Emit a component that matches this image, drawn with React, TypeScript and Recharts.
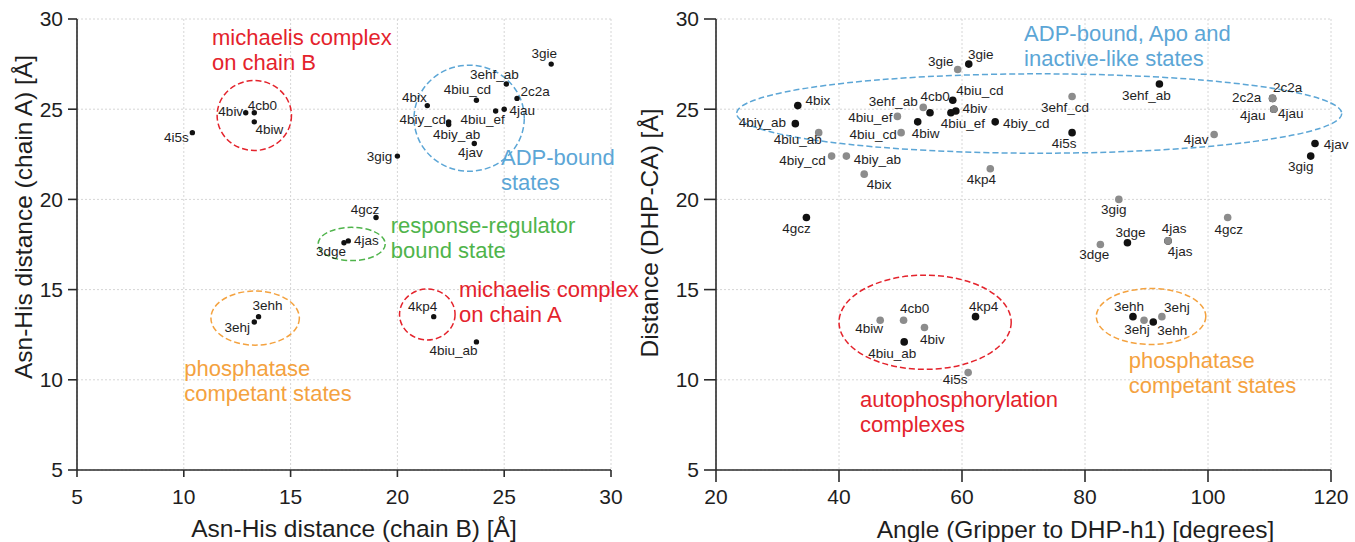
import React from "react";
import { ScatterChart, Scatter, XAxis, YAxis, CartesianGrid, ReferenceArea, Label } from "recharts";

const FONT = '"Liberation Sans", Arial, Helvetica, sans-serif';

const COLORS: Record<string, string> = {
  red: "#e4232c",
  blue: "#5ca6d6",
  green: "#4fb44b",
  orange: "#f4a23f",
};

// ---- left panel: Asn-His distance, chain B (x) vs chain A (y)
const distTicks = [5, 10, 15, 20, 25, 30];

const asnHisPoints = [
  { name: "3gie", x: 27.2, y: 27.5 },
  { name: "3ehf_ab", x: 25.1, y: 26.4 },
  { name: "2c2a", x: 25.6, y: 25.6 },
  { name: "4bix", x: 21.4, y: 25.2 },
  { name: "4biu_cd", x: 23.7, y: 25.5 },
  { name: "4jau", x: 25.0, y: 25.0 },
  { name: "4biu_ef", x: 24.6, y: 24.9 },
  { name: "4biy_cd", x: 22.4, y: 24.3 },
  { name: "4biy_ab", x: 22.4, y: 24.15 },
  { name: "4jav", x: 23.6, y: 23.1 },
  { name: "3gig", x: 20.0, y: 22.4 },
  { name: "4biv", x: 12.9, y: 24.8 },
  { name: "4cb0", x: 13.3, y: 24.8 },
  { name: "4biw", x: 13.3, y: 24.3 },
  { name: "4i5s", x: 10.4, y: 23.7 },
  { name: "4gcz", x: 19.0, y: 19.0 },
  { name: "4jas", x: 17.7, y: 17.7 },
  { name: "3dge", x: 17.5, y: 17.6 },
  { name: "3ehh", x: 13.5, y: 13.5 },
  { name: "3ehj", x: 13.3, y: 13.2 },
  { name: "4kp4", x: 21.7, y: 13.5 },
  { name: "4biu_ab", x: 23.7, y: 12.1 },
];

// label placement (px from the dot), same order as asnHisPoints
const asnHisLabelPos: [number, number][] = [
  [-7, -11], [-12, -10], [18, -7], [-13, -8], [-9, -11], [18, 1], [-13, 8], [-26, -3],
  [8, 10], [-4, 9], [-18, 0], [-15, -2], [8, -8], [15, 7], [-16, 5], [-11, -8],
  [18, -1], [-13, 9], [9, -11], [-17, 5], [-11, -10], [-23, 8],
];

const asnHisRings = [
  { cx: 13.3, cy: 24.65, rx: 1.74, ry: 1.94, group: "red" },
  { cx: 23.36, cy: 24.5, rx: 2.58, ry: 2.94, group: "blue" },
  { cx: 17.86, cy: 17.53, rx: 1.57, ry: 0.92, group: "green" },
  { cx: 13.34, cy: 13.42, rx: 2.07, ry: 1.5, group: "orange" },
  { cx: 21.4, cy: 13.62, rx: 1.3, ry: 1.41, group: "red" },
];

const asnHisNotes = [
  { x: 11.32, y: 28.55, lines: ["michaelis complex", "on chain B"], group: "red" },
  { x: 24.85, y: 21.9, lines: ["ADP-bound", "states"], group: "blue" },
  { x: 19.69, y: 18.12, lines: ["response-regulator", "bound state"], group: "green" },
  { x: 22.88, y: 14.6, lines: ["michaelis complex", "on chain A"], group: "red" },
  { x: 10.02, y: 10.21, lines: ["phosphatase", "competant states"], group: "orange" },
];

// ---- right panel: gripper angle (x) vs DHP-CA distance (y)
const angleTicks = [20, 40, 60, 80, 100, 120];

const angleBlack = [
  { name: "3gie", x: 61.1, y: 27.5 },
  { name: "3ehf_ab", x: 92.1, y: 26.4 },
  { name: "2c2a", x: 110.5, y: 25.6 },
  { name: "4jau", x: 110.7, y: 25.0 },
  { name: "4bix", x: 33.3, y: 25.2 },
  { name: "4biy_ab", x: 32.9, y: 24.2 },
  { name: "4biw", x: 52.8, y: 24.3 },
  { name: "4cb0", x: 54.8, y: 24.8 },
  { name: "4biu_cd", x: 58.5, y: 25.5 },
  { name: "4biv", x: 59.0, y: 24.9 },
  { name: "4biu_ef", x: 58.2, y: 24.8 },
  { name: "4biy_cd", x: 65.4, y: 24.3 },
  { name: "4i5s", x: 77.9, y: 23.7 },
  { name: "4jav", x: 117.4, y: 23.1 },
  { name: "3gig", x: 116.7, y: 22.4 },
  { name: "4gcz", x: 34.7, y: 19.0 },
  { name: "3dge", x: 86.9, y: 17.6 },
  { name: "4jas", x: 93.5, y: 17.7 },
  { name: "4biu_ab", x: 50.6, y: 12.1 },
  { name: "4kp4", x: 62.2, y: 13.5 },
  { name: "3ehh", x: 87.8, y: 13.5 },
  { name: "3ehh", x: 91.1, y: 13.2 },
];

const angleBlackLabelPos: [number, number][] = [
  [12, -10], [-13, 11], [-26, -1], [-21, 6], [20, -5], [-33, -1], [8, 11], [5, -17],
  [27, -10], [19, -3], [12, 10], [31, 1], [-8, 11], [21, 1], [-10, 10], [-10, 11],
  [3, -10], [6, -13], [-12, 11], [8, -10], [-4, -10], [19, 8],
];

const angleGray = [
  { name: "3gie", x: 59.3, y: 27.2 },
  { name: "2c2a", x: 110.5, y: 25.6 },
  { name: "4jau", x: 110.7, y: 25.0 },
  { name: "4biu_ab", x: 36.7, y: 23.7 },
  { name: "4biy_cd", x: 38.8, y: 22.4 },
  { name: "4biy_ab", x: 41.2, y: 22.4 },
  { name: "4bix", x: 44.1, y: 21.4 },
  { name: "4biu_ef", x: 49.5, y: 24.6 },
  { name: "3ehf_ab", x: 53.7, y: 25.1 },
  { name: "4biu_cd", x: 50.1, y: 23.7 },
  { name: "4kp4", x: 64.6, y: 21.7 },
  { name: "3ehf_cd", x: 77.9, y: 25.7 },
  { name: "4jav", x: 101.0, y: 23.6 },
  { name: "3gig", x: 85.5, y: 20.0 },
  { name: "4gcz", x: 103.2, y: 19.0 },
  { name: "4jas", x: 93.5, y: 17.7 },
  { name: "3dge", x: 82.5, y: 17.5 },
  { name: "4biw", x: 46.7, y: 13.3 },
  { name: "4cb0", x: 50.5, y: 13.3 },
  { name: "4biv", x: 53.9, y: 12.9 },
  { name: "4i5s", x: 61.0, y: 10.4 },
  { name: "3ehj", x: 89.6, y: 13.3 },
  { name: "3ehj", x: 92.5, y: 13.5 },
];

const angleGrayLabelPos: [number, number][] = [
  [-17, -8], [15, -11], [17, 4], [-21, 7], [-29, 4], [31, 3], [15, 10], [-27, 1],
  [-30, -6], [-28, 2], [-9, 11], [-7, 11], [-18, 5], [-5, 10], [1, 12], [12, 10],
  [-6, 10], [-11, 8], [11, -12], [8, 12], [-13, 7], [-7, 9], [15, -9],
];

const angleRings = [
  { cx: 72.55, cy: 24.76, rx: 49.2, ry: 2.2, group: "blue" },
  { cx: 54.0, cy: 13.19, rx: 14.0, ry: 2.61, group: "red" },
  { cx: 90.74, cy: 13.51, rx: 8.9, ry: 1.55, group: "orange" },
];

const angleNotes = [
  { x: 70.1, y: 28.76, lines: ["ADP-bound, Apo and", "inactive-like states"], group: "blue" },
  { x: 43.4, y: 8.49, lines: ["autophosphorylation", "complexes"], group: "red" },
  { x: 87.1, y: 10.68, lines: ["phosphatase", "competant states"], group: "orange" },
];

type Pt = { name: string; x: number; y: number };

const dotShape = (r: number, fill: string, pts: Pt[], pos: [number, number][]) => (props: any) => {
  const { cx, cy, payload } = props;
  let i = typeof props.index === "number" ? props.index : pts.indexOf(payload);
  if (i < 0) i = pts.findIndex((p) => p.x === payload?.x && p.y === payload?.y);
  const [dx, dy] = pos[i] ?? [0, -10];
  return (
    <g>
      <circle cx={cx} cy={cy} r={r} fill={fill} />
      <text
        x={cx + dx}
        y={cy + dy}
        dy="0.35em"
        textAnchor="middle"
        fontSize={13.5}
        fontFamily={FONT}
        fill="#1e1e1e"
      >
        {payload?.name}
      </text>
    </g>
  );
};

const noteShape = (color: string, lines: string[]) => (props: any) => (
  <text x={props.cx} y={props.cy} fill={color} fontSize={22} fontFamily={FONT}>
    {lines.map((l, i) => (
      <tspan key={i} x={props.cx} dy={i === 0 ? 0 : 25}>
        {l}
      </tspan>
    ))}
  </text>
);

const ringShape = (color: string) => (p: any) => (
  <ellipse
    cx={p.x + p.width / 2}
    cy={p.y + p.height / 2}
    rx={Math.abs(p.width) / 2}
    ry={Math.abs(p.height) / 2}
    fill="none"
    stroke={color}
    strokeWidth={1.5}
    strokeDasharray="6 3"
  />
);

const xTitle = (text: string, dx: number, baseline: number) => (props: any) => {
  const vb = props.viewBox || {};
  return (
    <text x={vb.x + vb.width / 2 + dx} y={baseline} textAnchor="middle" fontSize={24.5} fontFamily={FONT} fill="#1e1e1e">
      {text}
    </text>
  );
};

const yTitle = (text: string, x: number, y: number) => (props: any) => {
  const vb = props.viewBox || {};
  const cx = vb.x + x;
  return (
    <text
      x={cx}
      y={y}
      dy="0.35em"
      textAnchor="middle"
      transform={`rotate(-90, ${cx}, ${y})`}
      fontSize={24.5}
      fontFamily={FONT}
      fill="#1e1e1e"
    >
      {text}
    </text>
  );
};

const axisLine = { stroke: "#2b2b2b", strokeWidth: 1.6 };
const tickStyle = { fontSize: 21, fill: "#1e1e1e", fontFamily: FONT };

export default function App() {
  return (
    <div style={{ position: "absolute", left: 0, top: 0, width: 1355, height: 542, background: "#fff", overflow: "hidden" }}>
      {/* left panel is wider than its plot so the notes near its right edge are not clipped */}
      <div style={{ position: "absolute", left: 0, top: 0 }}>
        <ScatterChart width={660} height={542} margin={{ top: 19, right: 49, bottom: 0, left: 0 }}>
          <CartesianGrid stroke="#d6d6d6" strokeDasharray="2 2" />
          <XAxis
            type="number"
            dataKey="x"
            domain={[5, 30]}
            ticks={distTicks}
            height={72}
            tickSize={7}
            tickMargin={12}
            axisLine={axisLine}
            tickLine={axisLine}
            tick={tickStyle}
          >
            <Label content={xTitle("Asn-His distance (chain B) [Å]", 10, 537)} />
          </XAxis>
          <YAxis
            type="number"
            dataKey="y"
            domain={[5, 30]}
            ticks={distTicks}
            width={77}
            tickSize={9}
            tickMargin={5}
            axisLine={axisLine}
            tickLine={axisLine}
            tick={tickStyle}
          >
            <Label content={yTitle("Asn-His distance (chain A) [Å]", 23, 217)} />
          </YAxis>
          {asnHisRings.map((r, i) => (
            <ReferenceArea
              key={"ring" + i}
              x1={r.cx - r.rx}
              x2={r.cx + r.rx}
              y1={r.cy - r.ry}
              y2={r.cy + r.ry}
              ifOverflow="visible"
              shape={ringShape(COLORS[r.group])}
            />
          ))}
          {asnHisNotes.map((n, i) => (
            <Scatter
              key={"note" + i}
              data={[n]}
              isAnimationActive={false}
              legendType="none"
              shape={noteShape(COLORS[n.group], n.lines)}
            />
          ))}
          <Scatter
            data={asnHisPoints}
            isAnimationActive={false}
            shape={dotShape(2.7, "#111", asnHisPoints, asnHisLabelPos)}
          />
        </ScatterChart>
      </div>
      <div style={{ position: "absolute", left: 620, top: 0 }}>
        <ScatterChart width={735} height={542} margin={{ top: 19, right: 24, bottom: 0, left: 0 }}>
          <CartesianGrid stroke="#d6d6d6" strokeDasharray="2 2" />
          <XAxis
            type="number"
            dataKey="x"
            domain={[20, 120]}
            ticks={angleTicks}
            height={72}
            tickSize={12}
            tickMargin={7}
            axisLine={axisLine}
            tickLine={axisLine}
            tick={tickStyle}
          >
            <Label content={xTitle("Angle (Gripper to DHP-h1) [degrees]", 52, 538)} />
          </XAxis>
          <YAxis
            type="number"
            dataKey="y"
            domain={[5, 30]}
            ticks={distTicks}
            width={96}
            tickSize={12}
            tickMargin={5}
            axisLine={axisLine}
            tickLine={axisLine}
            tick={tickStyle}
          >
            <Label content={yTitle("Distance (DHP-CA) [Å]", 29, 233)} />
          </YAxis>
          {angleRings.map((r, i) => (
            <ReferenceArea
              key={"ring" + i}
              x1={r.cx - r.rx}
              x2={r.cx + r.rx}
              y1={r.cy - r.ry}
              y2={r.cy + r.ry}
              ifOverflow="visible"
              shape={ringShape(COLORS[r.group])}
            />
          ))}
          {angleNotes.map((n, i) => (
            <Scatter
              key={"note" + i}
              data={[n]}
              isAnimationActive={false}
              legendType="none"
              shape={noteShape(COLORS[n.group], n.lines)}
            />
          ))}
          <Scatter
            data={angleBlack}
            isAnimationActive={false}
            shape={dotShape(3.8, "#111", angleBlack, angleBlackLabelPos)}
          />
          <Scatter
            data={angleGray}
            isAnimationActive={false}
            shape={dotShape(3.8, "#8c8c8c", angleGray, angleGrayLabelPos)}
          />
        </ScatterChart>
      </div>
    </div>
  );
}
